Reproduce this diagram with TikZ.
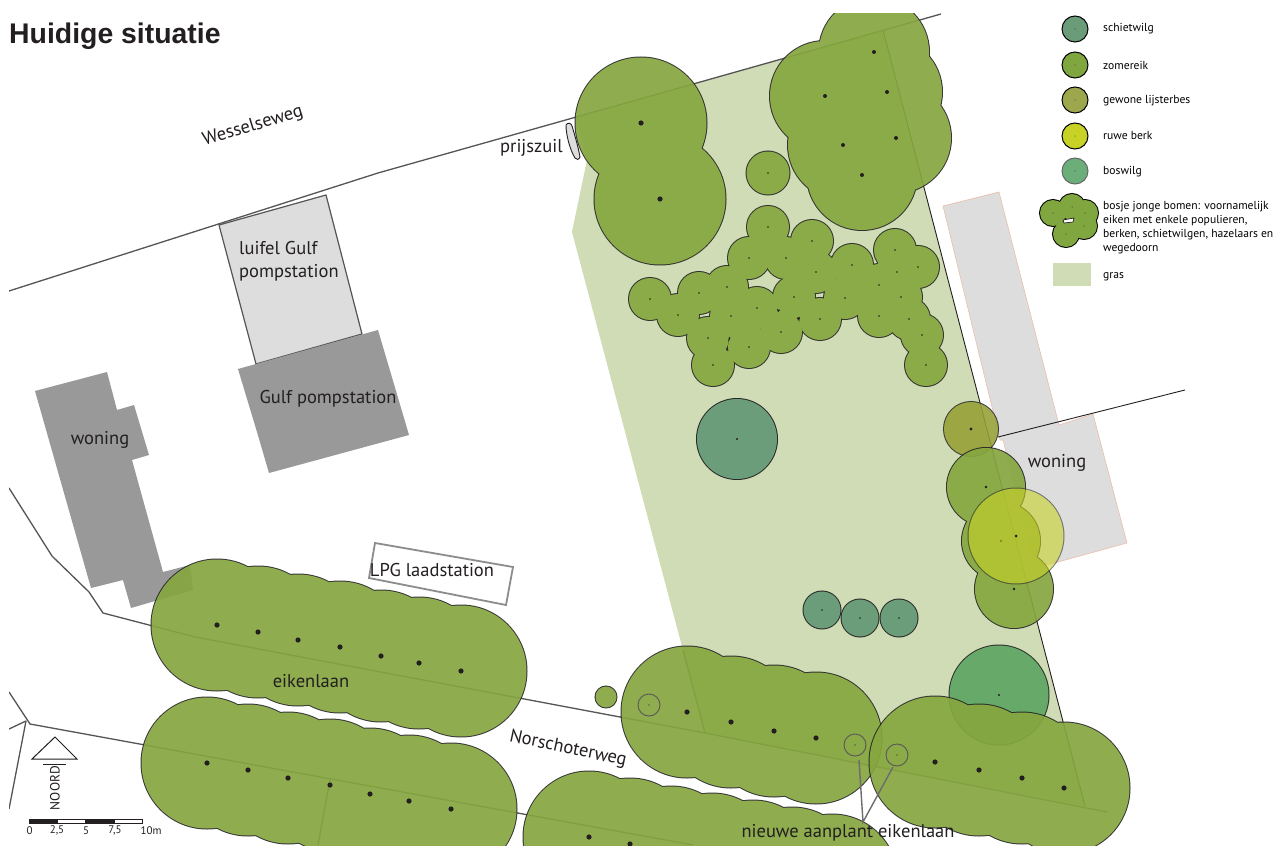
\documentclass[tikz,border=0pt]{standalone}
\usepackage{fontspec}
\setmainfont{PT Sans}
\newfontfamily\titlefont{Liberation Sans}
\definecolor{ink}{HTML}{231F20}
\definecolor{grasc}{HTML}{CFDCB5}
\definecolor{lightb}{HTML}{DDDDDD}
\definecolor{darkb}{HTML}{999999}
\definecolor{roadc}{HTML}{555555}
\definecolor{salmon}{HTML}{EDB9A0}
\definecolor{eik}{HTML}{86A63F}
\definecolor{wilg}{HTML}{6B9C79}
\definecolor{lijst}{HTML}{95A035}
\definecolor{berk}{HTML}{C8D226}
\definecolor{bosw}{HTML}{62A765}
\definecolor{legeik}{HTML}{7FA63F}
\definecolor{leglijst}{HTML}{9DA84E}
\definecolor{legbosw}{HTML}{6BAE79}
\tikzset{
  road/.style={draw=roadc,line width=1.3pt,line join=round},
  thinroad/.style={draw=ink,line width=.9pt},
  lab/.style={text=ink,font=\fontsize{18.5}{22.5}\selectfont,inner sep=0pt},
  leg/.style={text=black,font=\fontsize{11.6}{13.9}\selectfont,inner sep=0pt,anchor=west,align=left},
  legc/.style={draw=black,line width=1pt},
  trunk/.style={fill=ink,draw=none},
  scal/.style={text=ink,font=\fontsize{11}{12}\selectfont,inner sep=0pt},
  leader/.style={draw=gray!85!black,line width=1.4pt},
  ring/.style={draw=ink!75,line width=.9pt}
}
% cluster{colour}{opacity}{radius}{list}{dot radius}
\newcommand{\treegroup}[5]{%
  \begin{scope}[transparency group,opacity=#2]
    \foreach \px/\py in {#4} \draw[black!85,line width=2pt] (\px,\py) circle (#3pt);
    \foreach \px/\py in {#4} \fill[#1] (\px,\py) circle (#3pt);
  \end{scope}
  \foreach \px/\py in {#4} \fill[ink] (\px,\py) circle (#5pt);
}
\begin{document}
\begin{tikzpicture}[x=1pt,y=-1pt]
\useasboundingbox (0,0) rectangle (1278,859);
\fill[white] (0,0) rectangle (1278,859);
\begin{scope}
\clip (9,14) rectangle (1278,845);
% grass
\fill[grasc] (572,232) -- (587,160) -- (576,117) -- (883,30) -- (1085,806) -- (705,733) -- cycle;
\draw[ink,line width=.9pt] (883,30) -- (1085,806);
% buildings
\filldraw[fill=lightb,draw=salmon,line width=.5pt] (943,206) -- (999,192) -- (1059,425) -- (1093,414) -- (1127,543) -- (1058,562) -- (1035,568) -- (1003,440) -- (1000,440) -- cycle;
\filldraw[fill=lightb,draw=roadc,line width=1.2pt] (256,364) -- (219,225) -- (326,195) -- (362,334) -- cycle;
\fill[darkb] (238,369) -- (378,330) -- (409,435) -- (269,473) -- (257,432) -- cycle;
\fill[darkb] (35,391) -- (107,372) -- (117,410) -- (134,405) -- (149,455) -- (132,460) -- (163,572) -- (190,565) -- (193,590) -- (131,608) -- (123,580) -- (91,588) -- cycle;
% prijszuil
\filldraw[fill=lightb,draw=ink,line width=.9pt] (566,125) .. controls (568,122) and (571,123) .. (572,126) .. controls (575,136) and (578,146) .. (580,157) .. controls (579,160) and (576,160) .. (575,158) .. controls (570,150) and (566,135) .. (566,125) -- cycle;
% LPG
\draw[draw=black!45,line width=1.8pt] (375,543) -- (513,567) -- (506,605) -- (369,578) -- cycle;
% roads
\draw[road] (9,291) -- (378,173) -- (941,14);
\draw[road] (9,488) -- (52,556) -- (89,592) -- (103,613) -- (195,637) -- (705,733) -- (1107,812);
\draw[road] (9,692) -- (30,724) -- (693,845);
\draw[road] (9,729) -- (26,721) -- (9,809);
\draw[road] (705,733) -- (683,650);
\draw[road] (330,780) -- (318,845);
\draw[thinroad] (998,437) -- (1185,390);
% trees
\treegroup{bosw}{.95}{49.5}{999/695}{1.2}
\treegroup{lijst}{.88}{27}{971/429}{1.6}
\treegroup{eik}{.92}{65.5}{641/123,660/199}{2.6}
\treegroup{eik}{.92}{55}{874/52,825/96,887/92,843/145,896/138,862/175}{2}
\treegroup{eik}{.92}{21.5}{768/173}{.8}
\treegroup{eik}{.92}{21}{650/299,678/315,699/293,727/287,749/258,768/227,786/258,812/241,816/272,852/265,895/250,918/267,897/272,879/285,901/297,845/298,794/297,757/308,731/316,708/338,713/365,749/347,781/332,820/319,879/316,909/319,922/335,926/365}{.8}
\fill[ink] (777,309) -- (780,310) -- (778,312) -- cycle;
\fill[ink] (797,318) -- (800,317) -- (799,321) -- cycle;
\fill[ink] (729,337) -- (730,339) -- (728,342) -- cycle;
\fill[ink] (727,348) -- (728,351) -- (726,350) -- cycle;
\treegroup{wilg}{.98}{40}{737/439}{1.2}
\treegroup{wilg}{.98}{18.5}{822/610}{.8}
\treegroup{wilg}{.98}{18.5}{860/618}{.8}
\treegroup{wilg}{.98}{18.5}{899/618}{.8}
\treegroup{eik}{.92}{10.5}{606/697}{.01}
\treegroup{eik}{.92}{39}{986/487,1001/541,1014/589}{1.3}
\treegroup{berk}{.6}{47.5}{1016/536}{1.5}
\treegroup{eik}{.92}{65.5}{217/625,258/632,298/640,340/647,381/656,419/663,461/671}{2.6}
\treegroup{eik}{.92}{65.5}{207/763,248/770,288/778,330/785,370/794,409/801,451/809}{2.6}
\treegroup{eik}{.92}{65.5}{589/837,630/844,671/852,712/859,753/866,792/873,832/880}{2.6}
\treegroup{eik}{.92}{65.5}{687/712,731/722,774/731,816/738}{2.6}
\treegroup{eik}{.92}{65.5}{935/762,979/770,1022/778,1064/788}{2.6}
\foreach \px/\py in {649/705,855/745,897/755} {
  \draw[ring] (\px,\py) circle (11pt);
  \fill[ink] (\px,\py) circle (.6pt);
}
% leaders
\coordinate (la) at (859,760);
\coordinate (lb) at (893,767);
\coordinate (lc) at (863,822);
\draw[leader] (la) -- (lc) -- (lb);
\end{scope}
% labels
\node[inner sep=0pt,anchor=base west,text=ink,font=\titlefont\bfseries\fontsize{28.4}{32}\selectfont] (title) at (9,43.5) {Huidige situatie};
\node[lab,rotate=17] (wess) at (253,126.5) {Wesselseweg};
\node[lab,anchor=base east] (prijs) at (563,152) {prijszuil};
\node[lab,anchor=base west,align=left] (luifel) at (239,277) {luifel Gulf\\pompstation};
\node[lab] (gulf) at (328,398.5) {Gulf pompstation};
\node[lab] (won1) at (100,440) {woning};
\node[lab] (won2) at (1057,463) {woning};
\node[lab] (lpg) at (432,570) {LPG laadstation};
\node[lab] (eiken) at (311,681) {eikenlaan};
\node[lab,rotate=-12] (nors) at (568,749) {Norschoterweg};
\node[lab] (nieuw) at (848,833) {nieuwe aanplant eikenlaan};
% legend
\filldraw[legc,fill=wilg] (1075,29) circle (13pt);
\filldraw[legc,fill=legeik] (1075,65) circle (13pt);
\filldraw[legc,fill=leglijst] (1075,100) circle (13pt);
\filldraw[legc,fill=berk] (1075,136) circle (13pt);
\filldraw[legc,draw=gray!80!black,fill=legbosw] (1075,171) circle (13pt);
\foreach \py in {29,65,100,136,171} \fill[ink] (1075,\py) circle (.5pt);
\node[leg] (l1) at (1103,29) {schietwilg};
\node[leg] (l2) at (1103,65) {zomereik};
\node[leg] (l3) at (1103,101) {gewone lijsterbes};
\node[leg] (l4) at (1103,136) {ruwe berk};
\node[leg] (l5) at (1103,172) {boswilg};
\node[leg,anchor=north west] (l6) at (1103,201) {bosje jonge bomen: voornamelijk\\eiken met enkele populieren,\\berken, schietwilgen, hazelaars en\\wegedoorn};
\node[leg] (l7) at (1103,277) {gras};
\foreach \px/\py in {1053/213,1072/207,1085/213,1084/226,1066/234} \draw[black,line width=2pt] (\px,\py) circle (13pt);
\foreach \px/\py in {1053/213,1072/207,1085/213,1084/226,1066/234} \fill[legeik] (\px,\py) circle (13pt);
\foreach \px/\py in {1053/213,1072/207,1085/213,1084/226,1066/234} \fill[ink] (\px,\py) circle (.5pt);
\filldraw[fill=white,draw=ink,line width=.7pt] (1063,220) -- (1074,218) -- (1073,222) -- (1064,223) -- cycle;
\fill[grasc] (1053,263) rectangle (1091,286);
% north arrow
\draw[ink,line width=1pt,line join=miter] (32,759) -- (55,737) -- (77,759) -- cycle;
\draw[ink,line width=1pt] (43,764) -- (66,764);
\node[scal,rotate=90,font=\fontsize{13.4}{14}\selectfont] (noord) at (55,788) {NOORD};
% scale bar
\draw[ink,line width=.8pt] (29,819) rectangle (142,823);
\fill[ink] (29,819) rectangle (58,823);
\fill[ink] (85,819) rectangle (115,823);
\node[scal] (s0) at (29.5,830.5) {0};
\node[scal] (s1) at (57,830.5) {2,5};
\node[scal] (s2) at (86,830.5) {5};
\node[scal] (s3) at (115,830.5) {7,5};
\node[scal] (s4) at (151,830.5) {10m};
\end{tikzpicture}
\end{document}
